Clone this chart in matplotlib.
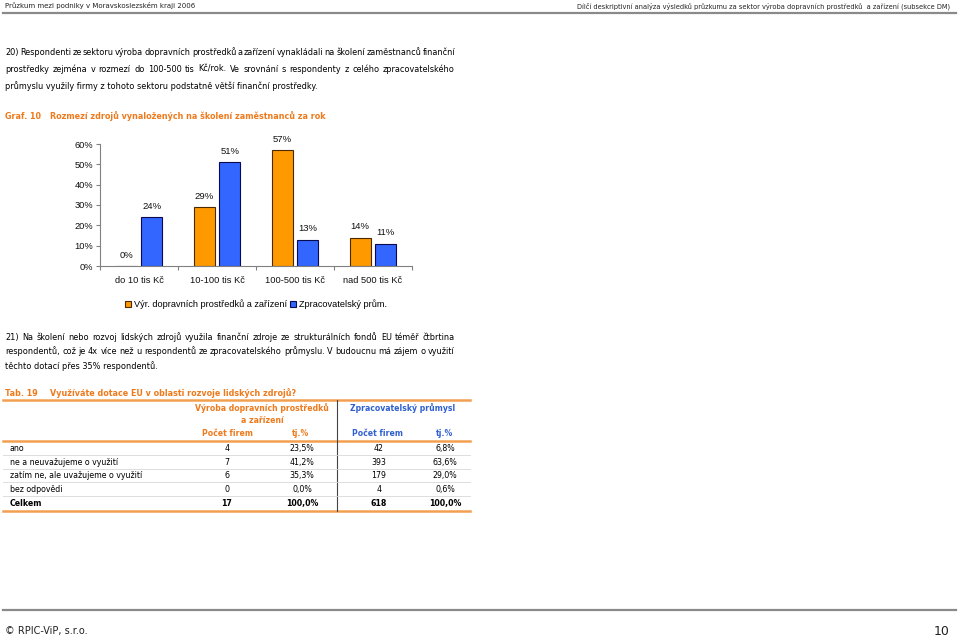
import matplotlib.pyplot as plt
from matplotlib.lines import Line2D
from matplotlib.ticker import PercentFormatter
import numpy as np

W, H = 959, 637

# chart data (Graf. 10)
categories = ["do 10 tis Kč", "10-100 tis Kč", "100-500 tis Kč", "nad 500 tis Kč"]
vyroba = [0.00, 0.29, 0.57, 0.14]
zprac = [0.24, 0.51, 0.13, 0.11]
series_names = ["Výr. dopravních prostředků a zařízení", "Zpracovatelský prům."]

# table data (Tab. 19)
row_labels = ["ano", "ne a neuvažujeme o využití", "zatím ne, ale uvažujeme o využití",
              "bez odpovědi", "Celkem"]
vyr_count = ["4", "7", "6", "0", "17"]
vyr_pct = ["23,5%", "41,2%", "35,3%", "0,0%", "100,0%"]
zpr_count = ["42", "393", "179", "4", "618"]
zpr_pct = ["6,8%", "63,6%", "29,0%", "0,6%", "100,0%"]

para20 = ["20) Respondenti ze sektoru výroba dopravních prostředků a zařízení vynakládali na školení zaměstnanců finanční",
          "prostředky zejména v rozmezí do 100-500 tis Kč/rok.  Ve srovnání s respondenty z celého zpracovatelského",
          "průmyslu využily firmy z tohoto sektoru podstatně větší finanční prostředky."]
para21 = ["21) Na školení nebo rozvoj lidských zdrojů využila finanční zdroje ze strukturálních fondů EU téměř čtbrtina",
          "respondentů, což je 4x více než u respondentů ze zpracovatelského průmyslu.  V budoucnu má zájem o využití",
          "těchto dotací přes 35% respondentů."]

ORANGE_TXT = "#EE7A1C"
BLUE_TXT = "#3060D0"
BODY = "DejaVu Sans"

fig = plt.figure(figsize=(W / 100, H / 100), dpi=100)
fig.patch.set_facecolor("white")


def fx(x):
    return x / W


def fy(y):
    return 1 - y / H


def put(x, y, s, **kw):
    # y is the text baseline in page pixels
    kw.setdefault("family", BODY)
    kw.setdefault("va", "baseline")
    return fig.text(fx(x), fy(y), s, **kw)


def hline(x0, x1, y, **kw):
    fig.add_artist(Line2D([fx(x0), fx(x1)], [fy(y), fy(y)], transform=fig.transFigure, **kw))


def justify(line, y, x0=5, x1=455, **kw):
    words = line.split()
    texts = [put(0, y, w, **kw) for w in words]
    r = fig.canvas.get_renderer()
    widths = [t.get_window_extent(r).width for t in texts]
    gap = (x1 - x0 - sum(widths)) / (len(words) - 1)
    x = x0
    for t, w in zip(texts, widths):
        t.set_x(fx(x))
        x += w + gap


# page header / footer
put(5, 8, "Průzkum mezi podniky v Moravskoslezském kraji 2006", fontsize=5.0, color="#222222")
put(950, 8, "Dílčí deskriptivní analýza výsledků průzkumu za sektor výroba dopravních prostředků  a zařízení (subsekce DM)",
    fontsize=4.8, color="#222222", ha="right")
hline(3, 956, 13, color="#8a8a8a", lw=1.6)
hline(3, 956, 610, color="#8a8a8a", lw=1.6)
put(5, 634, "© RPIC-ViP, s.r.o.", fontsize=7, color="#222222")
put(950, 635, "10", fontsize=9, color="#222222", ha="right")

# paragraph 20
body_size = 5.9
justify(para20[0], 55, fontsize=body_size)
justify(para20[1], 72, fontsize=body_size)
put(5, 89, para20[2], fontsize=body_size)

# chart title
put(5, 119, "Graf. 10", fontsize=5.8, weight="bold", color=ORANGE_TXT)
put(50, 119, "Rozmezí zdrojů vynaložených na školení zaměstnanců za rok", fontsize=5.8, weight="bold",
    color=ORANGE_TXT)

# chart
ax = fig.add_axes([fx(100), fy(266), (412 - 100) / W, (266 - 144) / H])
x = np.arange(len(categories))
bw = 0.27
off = 0.165
b1 = ax.bar(x - off, vyroba, bw, color="#FF9900", edgecolor="#4a2a00", linewidth=0.8, label=series_names[0])
b2 = ax.bar(x + off, zprac, bw, color="#3366FF", edgecolor="#0a0a50", linewidth=0.8, label=series_names[1])
for bars, vals in ((b1, vyroba), (b2, zprac)):
    for rect, v in zip(bars, vals):
        ax.annotate(f"{v * 100:.0f}%", (rect.get_x() + rect.get_width() / 2, v),
                    xytext=(0, 11), textcoords="offset pixels", ha="center", va="center",
                    fontsize=6.8, family="Liberation Sans", color="#111111")
ax.set_xlim(-0.5, len(categories) - 0.5)
ax.set_ylim(0, 0.6)
ax.set_yticks(np.arange(0, 0.61, 0.1))
ax.yaxis.set_major_formatter(PercentFormatter(1.0, decimals=0))
ax.set_xticks(x)
ax.set_xticklabels(categories)
ax.set_xticks(np.arange(-0.5, len(categories)), minor=True)
ax.tick_params(axis="x", which="major", length=0, pad=7)
ax.tick_params(axis="x", which="minor", length=3, color="#808080", width=0.8)
ax.tick_params(axis="y", length=3, color="#808080", width=0.8, pad=2)
for lab in ax.get_xticklabels() + ax.get_yticklabels():
    lab.set_fontsize(6.7)
    lab.set_family("Liberation Sans")
    lab.set_color("#111111")
for s in ("top", "right"):
    ax.spines[s].set_visible(False)
for s in ("left", "bottom"):
    ax.spines[s].set_color("#808080")
    ax.spines[s].set_linewidth(0.8)
ax.legend(loc="center", bbox_to_anchor=(0.5, (266 - 304) / 122), ncol=2, frameon=False,
          prop={"family": "Liberation Sans", "size": 6.6}, handlelength=0.6, handleheight=0.6,
          handletextpad=0.3, columnspacing=0.4, borderaxespad=0)

# paragraph 21
justify(para21[0], 340, fontsize=body_size)
justify(para21[1], 354, fontsize=body_size)
put(5, 369, para21[2], fontsize=body_size)

# table title
put(5, 396, "Tab. 19", fontsize=5.8, weight="bold", color=ORANGE_TXT)
put(50, 396, "Využíváte dotace EU v oblasti rozvoje lidských zdrojů?", fontsize=5.8, weight="bold",
    color=ORANGE_TXT)

# table
LINE_OR = "#F2A050"
hline(3, 470, 400, color=LINE_OR, lw=1.8)
hline(3, 470, 441, color=LINE_OR, lw=1.8)
hline(3, 470, 511, color=LINE_OR, lw=1.8)
fig.add_artist(Line2D([fx(337), fx(337)], [fy(400), fy(511)], transform=fig.transFigure,
                      color="#444444", lw=0.8))
hs = 5.6
put(262, 411, "Výroba dopravních prostředků", fontsize=hs, weight="bold", color=ORANGE_TXT, ha="center")
put(262, 423, "a zařízení", fontsize=hs, weight="bold", color=ORANGE_TXT, ha="center")
put(227, 436, "Počet firem", fontsize=hs, weight="bold", color=ORANGE_TXT, ha="center")
put(301, 436, "tj.%", fontsize=hs, weight="bold", color=ORANGE_TXT, ha="center")
put(403, 411, "Zpracovatelský průmysl", fontsize=hs, weight="bold", color=BLUE_TXT, ha="center")
put(378, 436, "Počet firem", fontsize=hs, weight="bold", color=BLUE_TXT, ha="center")
put(444, 436, "tj.%", fontsize=hs, weight="bold", color=BLUE_TXT, ha="center")

table_size = 5.7
row_y = [448, 462, 475, 489, 503]
for i, yy in enumerate(row_y):
    wt = "bold" if i == len(row_y) - 1 else "normal"
    b = yy + 3
    put(10, b, row_labels[i], fontsize=table_size, weight=wt)
    put(227, b, vyr_count[i], fontsize=table_size, weight=wt, ha="center")
    put(302, b, vyr_pct[i], fontsize=table_size, weight=wt, ha="center")
    put(379, b, zpr_count[i], fontsize=table_size, weight=wt, ha="center")
    put(445, b, zpr_pct[i], fontsize=table_size, weight=wt, ha="center")
    if i < len(row_y) - 1:
        hline(3, 470, (yy + row_y[i + 1]) / 2, color="#d8d8d8", lw=0.6)

fig.savefig("out.png", dpi=100)
